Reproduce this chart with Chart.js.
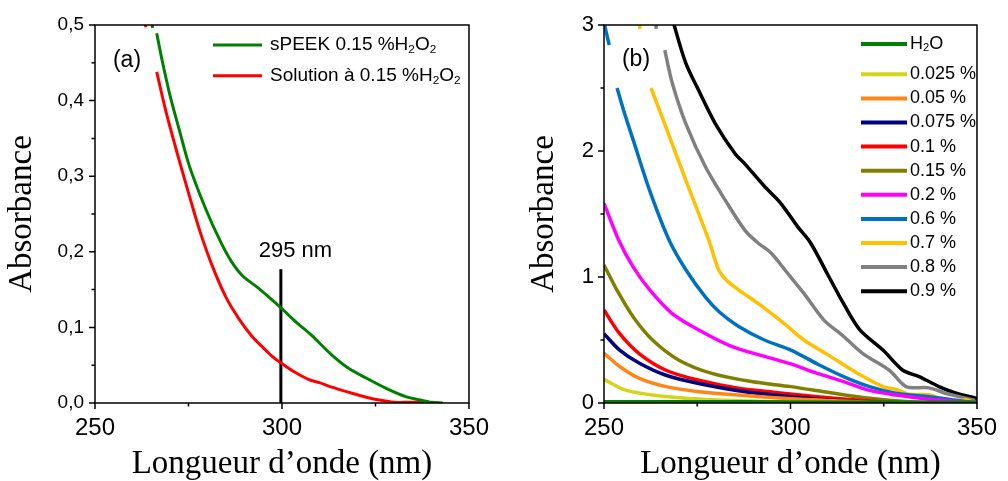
<!DOCTYPE html>
<html><head><meta charset="utf-8">
<script src="https://cdn.jsdelivr.net/npm/chart.js@4.4.1/dist/chart.umd.min.js"></script>
<style>
html,body{margin:0;padding:0;background:#fff;}
#wrap{position:relative;width:1008px;height:481px;overflow:hidden;background:#fff;}
canvas{position:absolute;top:0;}
#ca{left:0;}
#cb{left:500px;}
</style></head><body>
<div id="wrap"><canvas id="ca" width="500" height="481"></canvas><canvas id="cb" width="508" height="481"></canvas></div>
<script>
// ---------- Panel (a) data ----------
const wlSpeek  = [265.1, 265.4, 266, 266.5, 268, 270, 272.5, 275.2, 279.5, 283.5, 286.5, 289.5, 293.7, 296.5, 299.7, 304, 307.8, 313.2, 317.5, 322.5, 328, 333.3, 337, 340, 343];
const absSpeek = [0.505, 0.496, null, 0.489, 0.452, 0.408, 0.362, 0.314, 0.258, 0.214, 0.187, 0.168, 0.152, 0.140, 0.126, 0.106, 0.090, 0.064, 0.047, 0.033, 0.019, 0.008, 0.004, 0.001, 0.0];
const wlSol    = [263.3, 263.6, 265, 266.5, 269, 272, 275, 278, 281.3, 285, 288.4, 292, 295, 297.3, 299.7, 303, 307.2, 310, 313.3, 318, 322.3, 326, 330, 334, 338];
const absSol   = [0.505, 0.497, null, 0.438, 0.385, 0.330, 0.278, 0.228, 0.182, 0.140, 0.112, 0.088, 0.073, 0.062, 0.053, 0.042, 0.031, 0.027, 0.021, 0.014, 0.008, 0.004, 0.001, 0.001, 0.001];
const markerWl  = [299.7, 299.7];
const markerAbs = [0, 0.177];
const labelsA = ['sPEEK 0.15 %H₂O₂', 'Solution à 0.15 %H₂O₂'];
const markerText = '295 nm';
const markerTextPos = [303.6, 0.201];

// ---------- Panel (b) data ----------
const seriesB = ['H₂O', '0.025 %', '0.05 %', '0.075 %', '0.1 %', '0.15 %', '0.2 %', '0.6 %', '0.7 %', '0.8 %', '0.9 %'];
const wlH2O   = [250, 275, 300, 325, 350];
const absH2O  = [0.010, 0.010, 0.008, 0.006, 0.005];
const wl0025  = [250, 253, 256, 263, 271.9, 284.2, 301.9, 319.5, 335, 350];
const abs0025 = [0.188, 0.14, 0.10, 0.063, 0.037, 0.019, 0.005, 0.0, 0.0, 0.0];
const wl005   = [250, 254.2, 259.5, 266.6, 275.4, 286, 298.3, 310.7, 323.9, 335, 350];
const abs005  = [0.395, 0.29, 0.195, 0.13, 0.09, 0.063, 0.037, 0.019, 0.003, 0.0, 0.0];
const wl0075  = [250, 254.2, 259.5, 266.6, 275.4, 286, 298.3, 310.7, 323.9, 335, 350];
const abs0075 = [0.55, 0.42, 0.315, 0.22, 0.155, 0.098, 0.056, 0.024, 0.003, 0.0, 0.0];
const wl01    = [250, 254.2, 259.5, 266.6, 275.4, 286, 296.6, 307.2, 317.7, 328.3, 340, 350];
const abs01   = [0.738, 0.55, 0.39, 0.26, 0.18, 0.117, 0.082, 0.05, 0.024, 0.003, 0.0, 0.0];
const wl015   = [250, 253.4, 257.8, 263, 270.1, 278.9, 289.5, 300.1, 310.7, 321.2, 331.8, 342.4, 350];
const abs015  = [1.095, 0.90, 0.685, 0.50, 0.34, 0.235, 0.17, 0.13, 0.082, 0.037, 0.01, 0.0, 0.0];
const wl02    = [250, 254, 257.8, 262.2, 268.3, 275.4, 284.2, 293, 300.1, 307.2, 314.2, 321.2, 328.3, 337.1, 346, 350];
const abs02   = [1.585, 1.29, 1.08, 0.90, 0.71, 0.58, 0.45, 0.37, 0.31, 0.235, 0.17, 0.10, 0.063, 0.03, 0.01, 0.005];
const wl06    = [250, 251.4, 252.5, 253.5, 255.5, 257.8, 262.2, 267.5, 271.9, 277.2, 281, 286, 293, 300.1, 307.2, 314.2, 321.2, 328.3, 335.4, 342.4, 349.5];
const abs06   = [3.02, 2.84, null, 2.50, 2.30, 2.09, 1.69, 1.29, 1.06, 0.84, 0.72, 0.61, 0.50, 0.42, 0.31, 0.21, 0.13, 0.077, 0.055, 0.03, 0.0];
const wl07    = [259.5, 259.6, 261, 262.6, 266.6, 271.9, 278, 280.7, 283, 286, 291.3, 298.3, 303.6, 310.7, 317.7, 324.8, 328, 331.8, 337.1, 340, 344.2, 347, 349.5];
const abs07   = [3.02, 2.97, null, 2.50, 2.19, 1.77, 1.30, 1.06, 0.97, 0.90, 0.79, 0.63, 0.50, 0.37, 0.24, 0.13, 0.11, 0.07, 0.065, 0.04, 0.02, 0.025, 0.0];
const wl08    = [263.9, 264.0, 265, 266.3, 268.3, 271.9, 277.2, 282.5, 287.8, 291.3, 294.8, 299.2, 303.6, 308.9, 314.2, 319.5, 326.5, 331, 337.1, 342.4, 349.5];
const abs08   = [3.02, 2.97, null, 2.80, 2.54, 2.22, 1.875, 1.61, 1.37, 1.27, 1.19, 1.03, 0.87, 0.66, 0.53, 0.39, 0.26, 0.13, 0.12, 0.07, 0.02];
const wl09    = [268.5, 268.8, 271.9, 275.4, 279.8, 285.1, 287.7, 293, 297.4, 301.9, 305.4, 309.8, 314.2, 318.6, 324.8, 330.1, 334.5, 339.8, 344.2, 349.5, 350];
const abs09   = [3.05, 3.0, 2.70, 2.48, 2.22, 1.98, 1.90, 1.72, 1.585, 1.40, 1.27, 1.03, 0.79, 0.58, 0.42, 0.26, 0.21, 0.13, 0.08, 0.04, 0.03];
const colorsB = ['#008000', '#d4d41a', '#ff8517', '#000080', '#ff0000', '#808000', '#ff00ff', '#0070c0', '#ffc000', '#808080', '#000000'];

const SANS = '"Liberation Sans", Arial, sans-serif';
const SERIF = '"Liberation Serif", "Times New Roman", serif';

const pts = (xs, ys) => xs.map((x, i) => ({x: x, y: ys[i]}));

function drawRich(ctx, text, x, y, size) {
  let cx = x;
  let buf = '';
  const flush = () => {
    if (!buf) return;
    ctx.font = size + 'px ' + SANS;
    ctx.fillText(buf, cx, y);
    cx += ctx.measureText(buf).width;
    buf = '';
  };
  for (const ch of text) {
    if (ch === '₂') {
      flush();
      const s = size * 0.62;
      ctx.font = s + 'px ' + SANS;
      ctx.fillText('2', cx, y + size * 0.24);
      cx += ctx.measureText('2').width;
    } else buf += ch;
  }
  flush();
}

const framePlugin = {
  id: 'frame',
  afterDraw(chart) {
    const {ctx, chartArea: a} = chart;
    const xs = chart.scales.x, ys = chart.scales.y;
    ctx.save();
    ctx.strokeStyle = '#000';
    ctx.lineWidth = 1.5;
    ctx.strokeRect(a.left, a.top, a.right - a.left, a.bottom - a.top);
    ctx.beginPath();
    xs.ticks.forEach(t => {
      const p = xs.getPixelForValue(t.value);
      const len = t.label !== '' ? 6 : 3.5;
      ctx.moveTo(p, a.bottom); ctx.lineTo(p, a.bottom + len);
    });
    ys.ticks.forEach(t => {
      const p = ys.getPixelForValue(t.value);
      const len = t.label !== '' ? 6 : 3.5;
      ctx.moveTo(a.left, p); ctx.lineTo(a.left - len, p);
    });
    ctx.stroke();
    ctx.restore();
  }
};

const legendPlugin = {
  id: 'richLegend',
  afterDraw(chart, args, o) {
    const ctx = chart.ctx;
    ctx.save();
    ctx.textBaseline = 'middle';
    ctx.textAlign = 'left';
    let r = 0;
    chart.data.datasets.forEach(ds => {
      if (ds.noLegend) return;
      const y = o.rows[r++];
      ctx.strokeStyle = ds.borderColor;
      ctx.lineWidth = o.lineWidth;
      ctx.beginPath(); ctx.moveTo(o.x0, y); ctx.lineTo(o.x1, y); ctx.stroke();
      ctx.fillStyle = '#000';
      drawRich(ctx, ds.label, o.tx, y, o.size);
    });
    ctx.font = o.tagSize + 'px ' + SANS;
    ctx.textAlign = 'center';
    ctx.fillText(o.tag, o.tagX, o.tagY);
    if (o.note) {
      const xs = chart.scales.x, ys = chart.scales.y;
      ctx.font = o.note.size + 'px ' + SANS;
      ctx.fillText(o.note.text, xs.getPixelForValue(o.note.pos[0]), ys.getPixelForValue(o.note.pos[1]));
    }
    ctx.restore();
  }
};

function makeOptions(p) {
  return {
    responsive: false,
    animation: false,
    devicePixelRatio: 1,
    layout: {padding: {top: 25, right: p.padRight, left: 0, bottom: 0}},
    elements: {point: {radius: 0}, line: {borderWidth: p.lw, tension: 0.3, borderJoinStyle: 'round'}},
    plugins: {legend: {display: false}, tooltip: {enabled: false}, richLegend: p.legend},
    scales: {
      x: {
        type: 'linear', min: 250, max: 350,
        afterFit: s => { s.height = 78; },
        grid: {display: true, drawOnChartArea: false, drawTicks: false},
        border: {display: false},
        ticks: {stepSize: 25, autoSkip: false, maxRotation: 0, padding: 11, color: '#000',
                font: {family: SANS, size: 24, lineHeight: 1.2},
                callback: v => (Math.round(v) % 50 === 0 ? String(Math.round(v)) : '')},
        title: {display: true, text: 'Longueur d’onde (nm)', color: '#000',
                font: {family: SERIF, size: 33, lineHeight: 1}, padding: {top: 0, bottom: 0}}
      },
      y: {
        type: 'linear', min: 0, max: p.ymax,
        afterFit: s => { s.width = p.yWidth; },
        grid: {display: true, drawOnChartArea: false, drawTicks: false},
        border: {display: false},
        ticks: {stepSize: p.ystep, autoSkip: false, padding: p.yPad, color: '#000',
                font: {family: SANS, size: p.ytSize, lineHeight: 1.2}, callback: p.ycb},
        title: {display: true, text: 'Absorbance', color: '#000',
                font: {family: SERIF, size: 33, lineHeight: 1}, padding: {top: p.yTitlePad, bottom: 0}}
      }
    }
  };
}

// ---------- Chart (a) ----------
new Chart(document.getElementById('ca'), {
  type: 'line',
  data: {datasets: [
    {label: labelsA[0], data: pts(wlSpeek, absSpeek), borderColor: '#008000', borderWidth: 3},
    {label: labelsA[1], data: pts(wlSol, absSol), borderColor: '#ff0000', borderWidth: 3},
    {label: 'marker', noLegend: true, data: pts(markerWl, markerAbs), borderColor: '#000', borderWidth: 3, tension: 0}
  ]},
  options: makeOptions({
    padRight: 27, lw: 3, ymax: 0.5, ystep: 0.05, yWidth: 95, yPad: 11, ytSize: 19, yTitlePad: 6,
    ycb: v => { const r = Math.round(v * 100); return r % 10 === 0 ? (r / 100).toFixed(1).replace('.', ',') : ''; },
    legend: {x0: 213, x1: 262, tx: 270, rows: [45, 75.7], size: 19, lineWidth: 3,
             tag: '(a)', tagX: 127, tagY: 61, tagSize: 23,
             note: {text: markerText, pos: markerTextPos, size: 22}}
  }),
  plugins: [framePlugin, legendPlugin]
});

// ---------- Chart (b) ----------
const wlB = [wlH2O, wl0025, wl005, wl0075, wl01, wl015, wl02, wl06, wl07, wl08, wl09];
const absB = [absH2O, abs0025, abs005, abs0075, abs01, abs015, abs02, abs06, abs07, abs08, abs09];
new Chart(document.getElementById('cb'), {
  type: 'line',
  data: {datasets: seriesB.map((lab, i) => ({label: lab, data: pts(wlB[i], absB[i]), borderColor: colorsB[i], borderWidth: 3.5}))},
  options: makeOptions({
    padRight: 26, lw: 3.5, ymax: 3, ystep: 0.5, yWidth: 104, yPad: 10, ytSize: 22, yTitlePad: 27.5,
    ycb: v => (Math.abs(v - Math.round(v)) < 1e-9 ? String(Math.round(v)) : ''),
    legend: {x0: 361, x1: 407, tx: 410, rows: [44, 74.3, 98.4, 122.5, 146.6, 170.7, 194.8, 218.9, 243, 267.1, 291.2],
             size: 18, lineWidth: 4, tag: '(b)', tagX: 136, tagY: 60, tagSize: 23}
  }),
  plugins: [framePlugin, legendPlugin]
});
</script>
</body></html>
